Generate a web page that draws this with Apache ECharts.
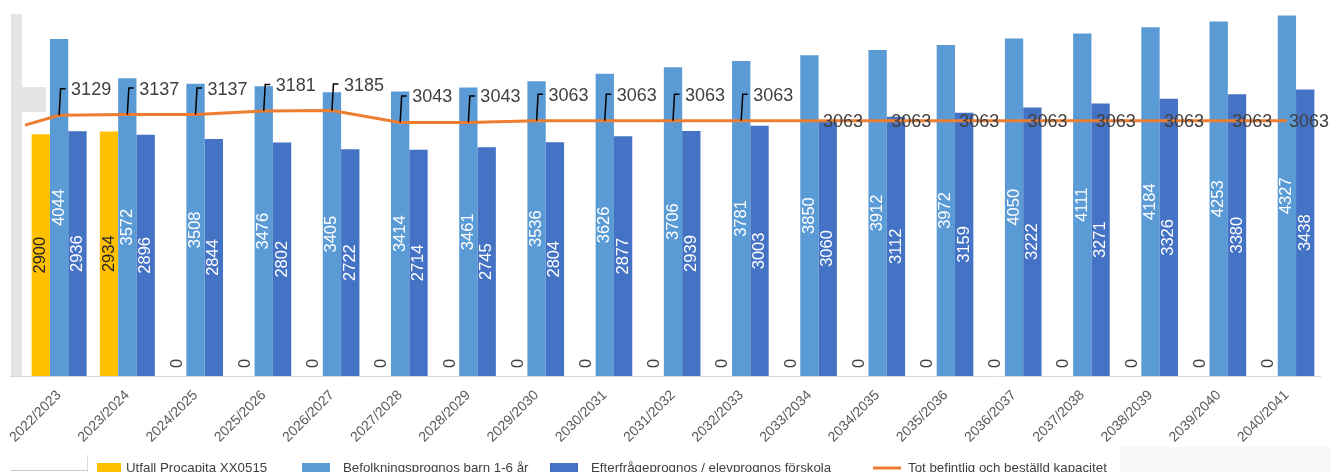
<!DOCTYPE html>
<html>
<head>
<meta charset="utf-8">
<script src="https://cdn.jsdelivr.net/npm/echarts@6/dist/echarts.min.js"></script>
<style>
  html, body { margin: 0; padding: 0; background: #fff; }
  #chart { width: 1331px; height: 472px; }
</style>
</head>
<body>
<div id="chart"></div>
<script>
// Läsår
const kategorier = [
  '2022/2023', '2023/2024', '2024/2025', '2025/2026', '2026/2027', '2027/2028',
  '2028/2029', '2029/2030', '2030/2031', '2031/2032', '2032/2033', '2033/2034',
  '2034/2035', '2035/2036', '2036/2037', '2037/2038', '2038/2039', '2039/2040',
  '2040/2041'
];

// Utfall Procapita XX0515
const utfall = [2900, 2934, 0, 0, 0, 0, 0, 0, 0, 0, 0, 0, 0, 0, 0, 0, 0, 0, 0];

// Befolkningsprognos barn 1-6 år
const befolkning = [
  4044, 3572, 3508, 3476, 3405, 3414, 3461, 3536, 3626, 3706,
  3781, 3850, 3912, 3972, 4050, 4111, 4184, 4253, 4327
];

// Efterfrågeprognos / elevprognos förskola
const efterfragan = [
  2936, 2896, 2844, 2802, 2722, 2714, 2745, 2804, 2877, 2939,
  3003, 3060, 3112, 3159, 3222, 3271, 3326, 3380, 3438
];

// Tot befintlig och beställd kapacitet
const kapacitet = [
  3129, 3137, 3137, 3181, 3185, 3043, 3043, 3063, 3063, 3063,
  3063, 3063, 3063, 3063, 3063, 3063, 3063, 3063, 3063
];
// capacity line enters the plot from the left edge at this level
const kapacitetStart = [3010];

// labels with a leader line (callout) for the first years
const antalMedLedare = 11;

const serieNamn = [
  'Utfall Procapita XX0515',
  'Befolkningsprognos barn 1-6 år',
  'Efterfrågeprognos / elevprognos förskola',
  'Tot befintlig och beställd kapacitet'
];

const FONT = '"Liberation Sans", Arial, sans-serif';
const LINE_LABEL_SIZE = 18;
const GUL = '#FFC000', LJUSBLA = '#5B9BD5', MORKBLA = '#4472C4', ORANGE = '#ED7D31';

// text measuring, used to keep the last line label inside the canvas
const measureCtx = document.createElement('canvas').getContext('2d');
measureCtx.font = LINE_LABEL_SIZE + 'px ' + FONT;

function barLabels(values, textColor) {
  return values.map(v => {
    if (v === 0) {
      return {
        value: v,
        label: {
          show: true, position: 'insideBottom', distance: 8, rotate: 90,
          align: 'left', verticalAlign: 'middle',
          color: '#404040', fontSize: 16.5, fontFamily: FONT
        }
      };
    }
    return {
      value: v,
      label: {
        show: true, position: 'inside', rotate: 90,
        align: 'center', verticalAlign: 'middle',
        color: textColor, fontSize: 16.5, fontFamily: FONT
      }
    };
  });
}

const chart = echarts.init(document.getElementById('chart'), null, { renderer: 'canvas' });

function legendFor(name, left, iconW, iconH, pad) {
  return {
    data: [name],
    left: left, top: 461.5,
    icon: 'rect',
    itemWidth: iconW, itemHeight: iconH,
    itemGap: 0, padding: 0, selectedMode: false,
    textStyle: {
      color: '#404040', fontSize: 13.3, fontFamily: FONT,
      padding: [0, 0, 0, pad]
    }
  };
}

const option = {
  animation: false,
  backgroundColor: '#fff',
  grid: { left: 25, right: 10, top: 1, bottom: 96, containLabel: false },
  legend: [
    legendFor(serieNamn[0], 97, 24, 10, 0),
    legendFor(serieNamn[1], 302, 28, 10, 8),
    legendFor(serieNamn[2], 550, 28, 10, 8),
    legendFor(serieNamn[3], 873, 28, 3, 2)
  ],
  xAxis: [
    {
      type: 'category',
      data: kategorier,
      boundaryGap: true,
      axisLine: { lineStyle: { color: '#d9d9d9', width: 1 } },
      axisTick: { show: false },
      axisLabel: {
        rotate: 45, margin: 17, interval: 0,
        color: '#595959', fontSize: 14, fontFamily: FONT
      },
      splitLine: { show: false }
    },
    {
      // numeric twin of the category axis, used for the capacity line
      type: 'value', min: -0.5, max: 18.5, show: false
    }
  ],
  yAxis: { type: 'value', min: 0, max: 4500, show: false },
  series: [
    {
      name: serieNamn[0], type: 'bar', xAxisIndex: 0,
      data: barLabels(utfall, '#262626'),
      itemStyle: { color: GUL },
      barGap: '0%', barCategoryGap: '19.4%'
    },
    {
      name: serieNamn[1], type: 'bar', xAxisIndex: 0,
      data: barLabels(befolkning, '#ffffff'),
      itemStyle: { color: LJUSBLA },
      barGap: '0%', barCategoryGap: '19.4%'
    },
    {
      name: serieNamn[2], type: 'bar', xAxisIndex: 0,
      data: barLabels(efterfragan, '#ffffff'),
      itemStyle: { color: MORKBLA },
      barGap: '0%', barCategoryGap: '19.4%'
    },
    {
      name: serieNamn[3], type: 'line', xAxisIndex: 1,
      data: [[-0.5, kapacitetStart[0]]].concat(kapacitet.map((v, i) => [i, v])),
      color: ORANGE,
      itemStyle: { color: ORANGE },
      lineStyle: { color: ORANGE, width: 3 },
      showSymbol: false, symbol: 'none', clip: true, z: 4
    },
    {
      // value labels for the capacity line, with callout leaders for the early years
      type: 'custom', xAxisIndex: 1, yAxisIndex: 0, z: 6, silent: true, clip: false,
      data: kapacitet.map((v, i) => [i, v]),
      renderItem: function (params, api) {
        const i = api.value(0);
        const v = api.value(1);
        const p = api.coord([i, v]);
        const text = String(v);
        const children = [];
        const textStyle = {
          text: text, fill: '#404040', fontSize: LINE_LABEL_SIZE, fontFamily: FONT,
          align: 'left', verticalAlign: 'middle'
        };
        if (i < antalMedLedare) {
          children.push({
            type: 'polyline',
            shape: { points: [[p[0], p[1]], [p[0] + 1.5, p[1] - 26.5], [p[0] + 6.5, p[1] - 26.5]] },
            style: { stroke: '#000', lineWidth: 1.5, fill: null }
          });
          children.push({ type: 'text', x: p[0] + 12, y: p[1] - 25, style: textStyle });
        } else {
          const w = measureCtx.measureText(text).width;
          const x = Math.min(p[0] + 13.5, api.getWidth() - w - 2);
          children.push({ type: 'text', x: x, y: p[1] + 1.5, style: textStyle });
        }
        return { type: 'group', children: children };
      }
    }
  ],
  graphic: [
    { type: 'rect', z: -1, shape: { x: 11, y: 14, width: 11, height: 362 }, style: { fill: '#e5e5e5' } },
    { type: 'rect', z: -1, shape: { x: 22, y: 87, width: 24, height: 25 }, style: { fill: '#e5e5e5' } },
    { type: 'line', z: -1, shape: { x1: 10, y1: 376.5, x2: 26, y2: 376.5 }, style: { stroke: '#d9d9d9', lineWidth: 1 } },
    { type: 'line', z: -1, shape: { x1: 87.5, y1: 455, x2: 87.5, y2: 472 }, style: { stroke: '#dcdcdc', lineWidth: 1 } },
    { type: 'line', z: -1, shape: { x1: 11, y1: 470.5, x2: 87, y2: 470.5 }, style: { stroke: '#c8c8c8', lineWidth: 1 } },
    { type: 'rect', z: -2, shape: { x: 1120, y: 447, width: 211, height: 25 }, style: { fill: '#f8f8f8' } }
  ]
};

chart.setOption(option);
</script>
</body>
</html>
